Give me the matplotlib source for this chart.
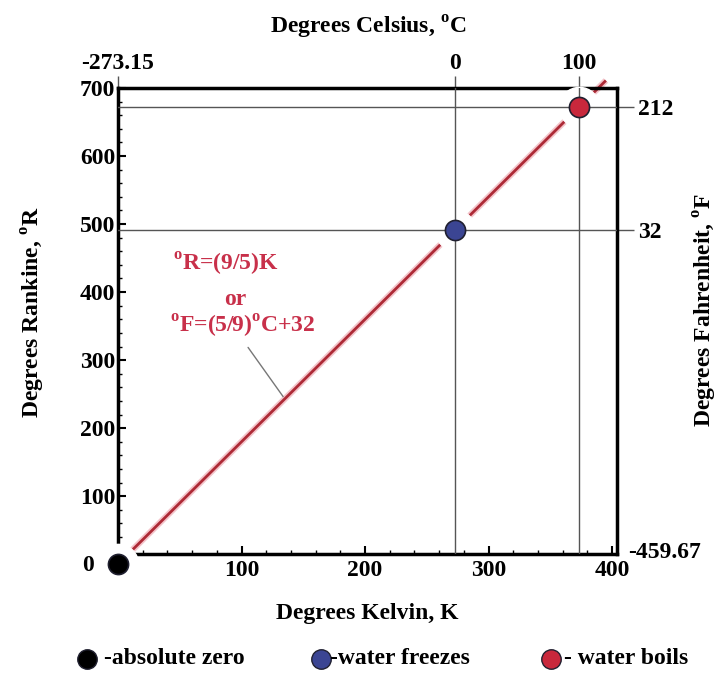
import numpy as np
import matplotlib
matplotlib.use("Agg")
import matplotlib.pyplot as plt
from matplotlib.ticker import MultipleLocator

plt.rcParams['font.family'] = ['Liberation Serif', 'DejaVu Serif']
plt.rcParams['font.weight'] = 'bold'
plt.rcParams['mathtext.fontset'] = 'custom'
plt.rcParams['mathtext.rm'] = 'Liberation Serif:bold'
plt.rcParams['mathtext.bf'] = 'Liberation Serif:bold'

# ---- data ----
kelvin_line = [0.0, 395.0]                 # extent of the conversion line (K)
rankine_factor = 9.0 / 5.0
point_names = ["-absolute zero", "-water freezes", "- water boils"]
point_K = [0.0, 273.15, 373.15]
point_R = [0.0, 491.67, 671.67]
point_colors = ["#000000", "#3b4593", "#c8283c"]
celsius_ticks = [-273.15, 0, 100]
celsius_labels = ["-273.15", "0", "100"]
fahr_ticks = [212, 32]
fahr_labels = ["212", "32"]
x_ticks = [100, 200, 300, 400]
y_ticks = [100, 200, 300, 400, 500, 600, 700]

FS = 17

fig = plt.figure(figsize=(7.21, 6.92), dpi=100)
ax = fig.add_axes([118/721, 1-554/692, (617-118)/721, (554-88)/692])
ax.set_xlim(0, 404)
ax.set_ylim(15, 700)

# conversion line with light glow
kl = np.array(kelvin_line)
ax.plot(kl, kl * rankine_factor, color="#f4c4ca", lw=4.5, solid_capstyle='butt',
        zorder=2, clip_on=False)
ax.plot(kl, kl * rankine_factor, color="#ad2a36", lw=2, solid_capstyle='butt',
        zorder=2.1, clip_on=False)

# reference lines for freezing / boiling
for k, r in zip(point_K[1:], point_R[1:]):
    ax.axvline(k, color="#555555", lw=1, zorder=4)
    ax.axhline(r, color="#555555", lw=1, zorder=4)

# white halos (gap in the red line) then dots
for k, r in zip(point_K, point_R):
    ax.plot([k], [r], 'o', ms=29, color='white', zorder=3, clip_on=False)
for k, r, c in zip(point_K, point_R, point_colors):
    ax.plot([k], [r], 'o', ms=10, color='white', zorder=4.5, clip_on=False)
    ax.plot([k], [r], 'o', ms=14.5, markerfacecolor=c, markeredgecolor='#202030',
            mew=1.2, zorder=5, clip_on=False)

# main axes styling
for s in ax.spines.values():
    s.set_linewidth(2.5)
ax.set_xticks(x_ticks)
ax.set_yticks(y_ticks)
ax.xaxis.set_minor_locator(MultipleLocator(20))
ax.yaxis.set_minor_locator(MultipleLocator(20))
ax.tick_params(which='major', direction='in', length=6, width=1.5, labelsize=FS, pad=4)
ax.tick_params(which='minor', direction='in', length=3, width=1)
ax.tick_params(axis='y', pad=2)
ax.set_xlabel("Degrees Kelvin, K", fontsize=FS, fontweight='bold')
ax.xaxis.set_label_coords(0.50, -0.105)
ax.set_ylabel(r"Degrees Rankine, $^{\mathrm{o}}$R", fontsize=FS, fontweight='bold')
ax.yaxis.set_label_coords(-0.142, 0.519)

# corner labels
ax.text(-24, -2, "0", fontsize=FS, ha='center', va='center', clip_on=False)

# Celsius (top)
secx = ax.secondary_xaxis('top', functions=(lambda k: k - 273.15, lambda c: c + 273.15))
secx.set_xticks(celsius_ticks)
secx.set_xticklabels(celsius_labels)
secx.tick_params(direction='out', length=9, width=1, color="#555555", labelsize=FS, pad=1)
secx.spines['top'].set_visible(False)
fig.text(368/721, 1 - 27/692, r"Degrees Celsius, $^{\mathrm{o}}$C", fontsize=FS,
         fontweight='bold', ha='center', va='center')

# Fahrenheit (right)
secy = ax.secondary_yaxis('right', functions=(lambda r: r - 459.67, lambda f: f + 459.67))
secy.set_yticks(fahr_ticks)
secy.set_yticklabels(fahr_labels)
secy.tick_params(direction='out', length=12, width=1, color="#555555", labelsize=FS, pad=3)
secy.spines['right'].set_visible(False)
fig.text(705/721, 1 - 310/692, r"Degrees Fahrenheit, $^{\mathrm{o}}$F", fontsize=FS,
         fontweight='bold', ha='center', va='center', rotation=90)
ax.text(1.096, 0.004, "-459.67", transform=ax.transAxes, fontsize=FS, ha='center', va='center',
        clip_on=False)

# equation annotation
red_txt = "#c8304a"
ax.text(87, 440, r"$^{\mathrm{o}}$R=(9/5)K", color=red_txt, fontsize=FS, ha='center', va='center')
ax.text(95, 389, "or", color=red_txt, fontsize=FS, ha='center', va='center')
ax.text(101, 350, r"$^{\mathrm{o}}$F=(5/9)$^{\mathrm{o}}$C+32", color=red_txt, fontsize=FS,
        ha='center', va='center')
ax.annotate("", xy=(135, 135 * rankine_factor), xytext=(104, 322),
            arrowprops=dict(arrowstyle='-', color="#777777", lw=1))

# legend row
leg_y = 1 - 659/692
leg_dot_x = [87, 321, 551]
leg_txt_x = [104, 330, 564]
for name, c, dx, tx in zip(point_names, point_colors, leg_dot_x, leg_txt_x):
    fig.lines.append(plt.Line2D([dx/721], [leg_y], marker='o', ms=14, markerfacecolor=c,
                                markeredgecolor='#202030', mew=1, transform=fig.transFigure))
    fig.text(tx/721, leg_y, name, fontsize=FS, ha='left', va='center')

fig.savefig("out.png", dpi=100)
